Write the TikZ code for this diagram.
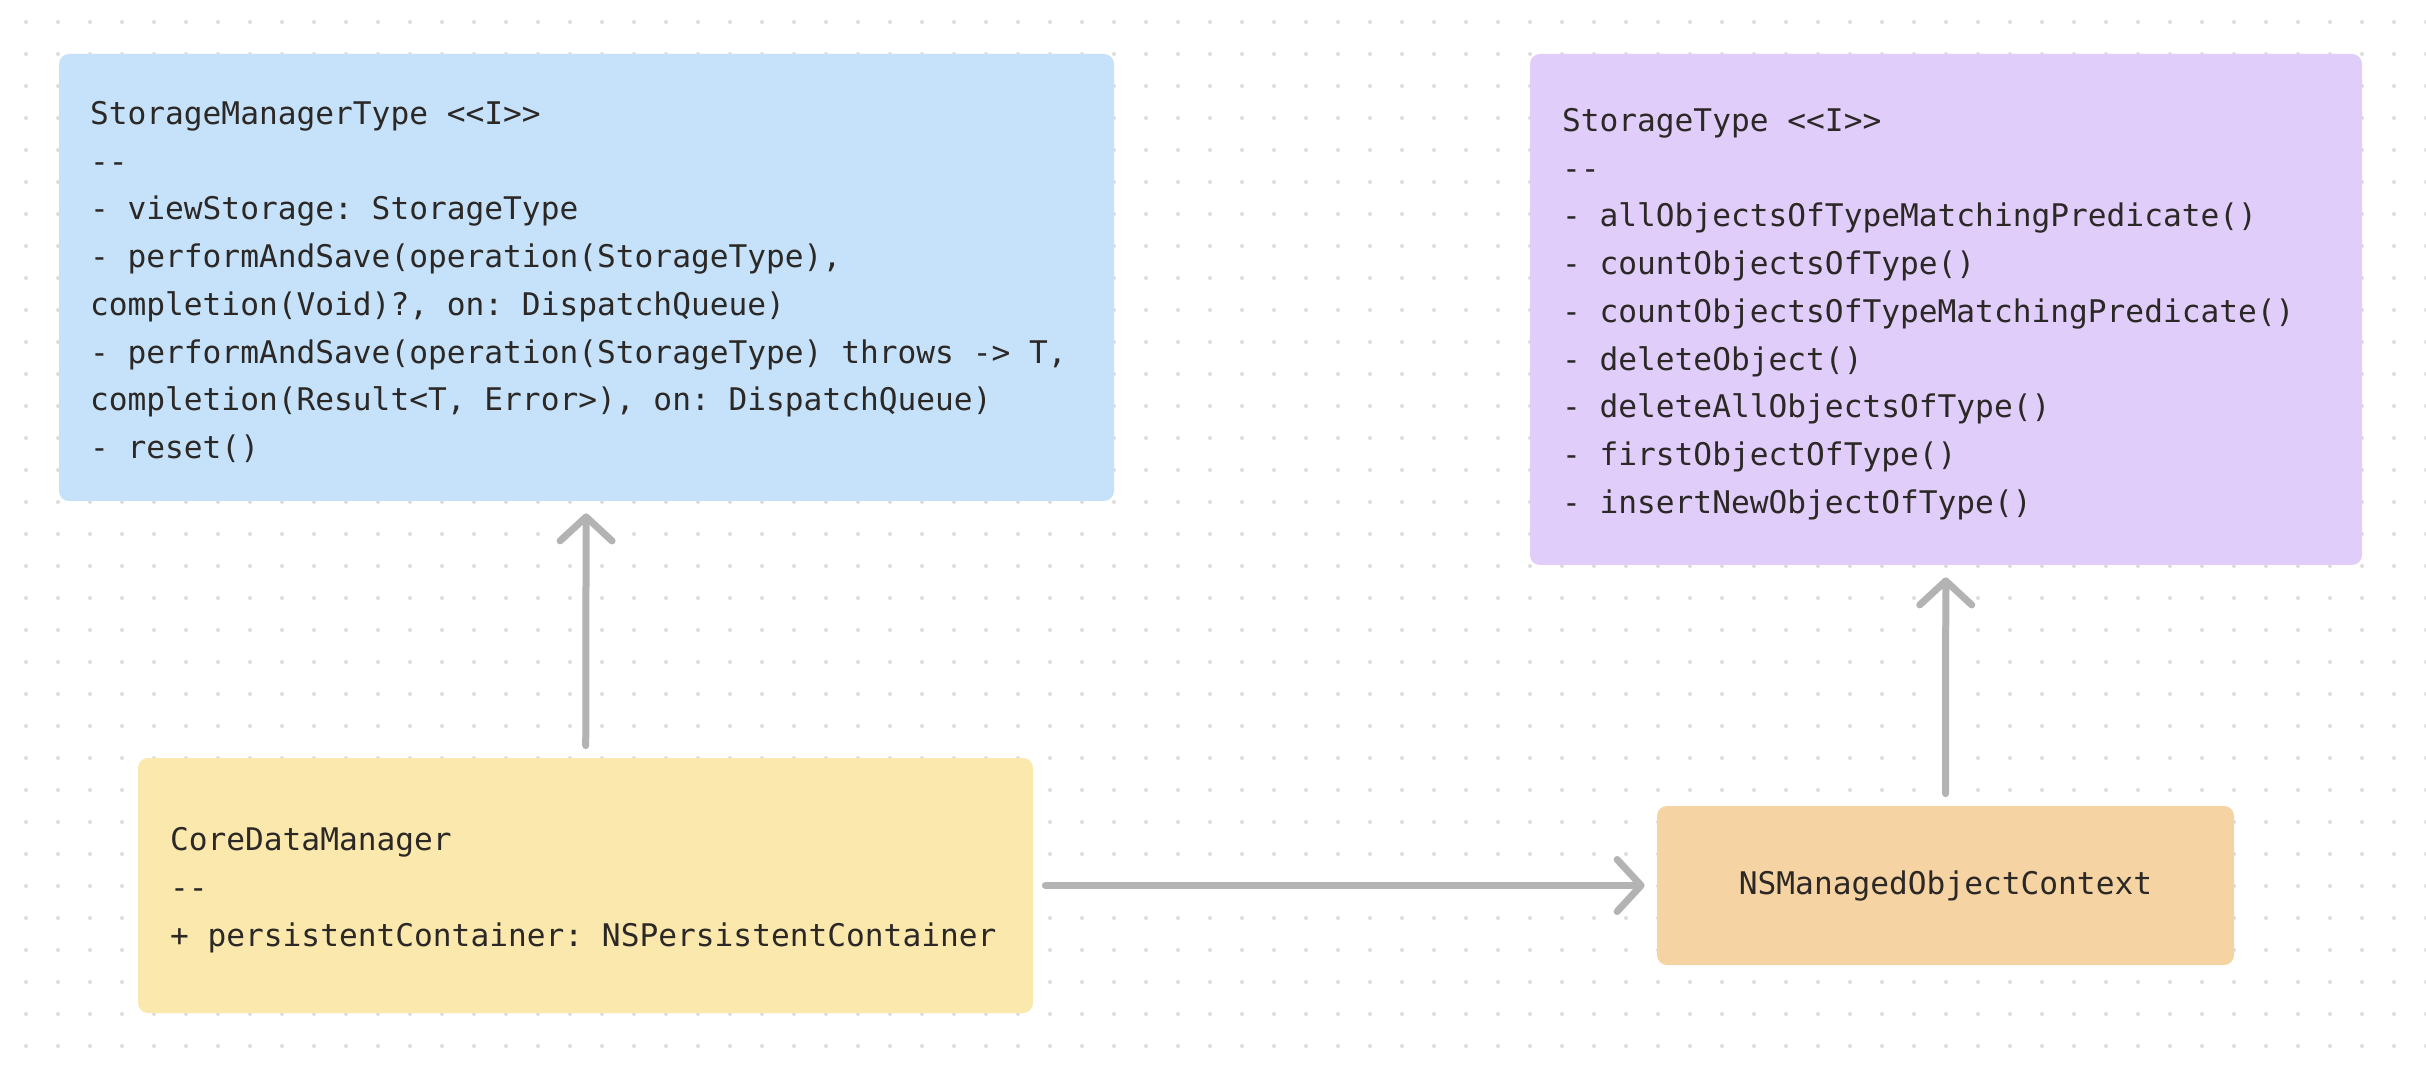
\documentclass[tikz,border=0pt]{standalone}
\usepackage{fontspec}
\setmonofont[WordSpace={1,0,0}]{DejaVu Sans Mono}
\usetikzlibrary{arrows.meta}
\definecolor{mgrblue}{HTML}{C5E2FA}
\definecolor{storpurple}{HTML}{E0CDFA}
\definecolor{coreyellow}{HTML}{FAE8AD}
\definecolor{ctxorange}{HTML}{F5D3A3}
\definecolor{linkgray}{HTML}{B3B3B3}
\definecolor{dotgray}{HTML}{DDDDDD}
\definecolor{txt}{HTML}{2B2826}
\newcommand\codespaces{\spaceskip=0.602em\relax\xspaceskip=\spaceskip}
\tikzset{
  box/.style={rectangle, rounded corners=5pt, text=txt, align=left,
    font=\ttfamily\fontsize{15.6}{23.85}\selectfont,
    execute at begin node=\codespaces, inner xsep=15.5pt, inner ysep=0pt},
  listbox/.style={box, execute at end node={\par\vspace{-4.5pt}}},
  link/.style={draw=linkgray, line width=3.5pt, line cap=round,
    -{Straight Barb[length=12pt,width=26pt,round]}, shorten <=6pt, shorten >=6pt}
}
\begin{document}
\begin{tikzpicture}[x=0.5pt,y=-0.5pt]
  \useasboundingbox[fill=white] (0,0) rectangle (2426,1074);
  \foreach \i in {0,...,75}
    \foreach \j in {0,...,32}
      \fill[dotgray] (26+32*\i,22+32*\j) circle [radius=1pt];
  \node [listbox, fill=mgrblue, text width=496.5pt, minimum height=223.5pt] (1) at (586.5,277.5)
    {StorageManagerType <<I>>\\
     --\\
     - viewStorage: StorageType\\
     - performAndSave(operation(StorageType),\\
     completion(Void)?, on: DispatchQueue)\\
     - performAndSave(operation(StorageType) throws -> T,\\
     completion(Result<T, Error>), on: DispatchQueue)\\
     - reset()};
  \node [listbox, fill=storpurple, text width=384pt, inner xsep=16pt, minimum height=255.5pt] (2) at (1946,309.5)
    {StorageType <<I>>\\
     --\\
     - allObjectsOfTypeMatchingPredicate()\\
     - countObjectsOfType()\\
     - countObjectsOfTypeMatchingPredicate()\\
     - deleteObject()\\
     - deleteAllObjectsOfType()\\
     - firstObjectOfType()\\
     - insertNewObjectOfType()};
  \node [listbox, fill=coreyellow, text width=415.5pt, inner xsep=16pt, minimum height=127.5pt] (3) at (585.5,885.5)
    {CoreDataManager\\
     --\\
     + persistentContainer: NSPersistentContainer};
  \node [box, fill=ctxorange, align=center, minimum width=288.5pt, minimum height=79.5pt] (4) at (1945.5,885.5)
    {NSManagedObjectContext};
  \draw [link] (3) -- (1);
  \draw [link] (3) -- (4);
  \draw [link] (4) -- (2);
\end{tikzpicture}
\end{document}
